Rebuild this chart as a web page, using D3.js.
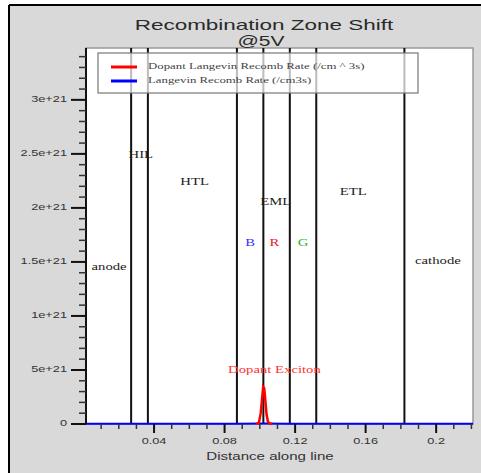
<!DOCTYPE html>
<html>
<head>
<meta charset="utf-8">
<script src="https://cdn.jsdelivr.net/npm/d3@7"></script>
<style>
  body { margin: 0; background: #fff; }
  svg { display: block; }
</style>
</head>
<body>
<div id="chart"></div>
<script>
// data
const layerBounds = [0.027, 0.0365, 0.087, 0.102, 0.117, 0.132, 0.182];
const layerLabels = [
    { text: "anode", x: 0.0145, y: 1.45e21, color: "#222" },
    { text: "HIL", x: 0.0325, y: 2.48e21, color: "#222" },
    { text: "HTL", x: 0.063, y: 2.23e21, color: "#222" },
    { text: "EML", x: 0.109, y: 2.05e21, color: "#222" },
    { text: "ETL", x: 0.153, y: 2.14e21, color: "#222" },
    { text: "cathode", x: 0.201, y: 1.5e21, color: "#222" }
];
const colourLabels = [
    { text: "B", x: 0.0945, y: 1.67e21, color: "#3333ee" },
    { text: "R", x: 0.1083, y: 1.67e21, color: "#ee2222" },
    { text: "G", x: 0.1245, y: 1.67e21, color: "#22bb22" }
];
const dopantX = [0.098, 0.0995, 0.1005, 0.1013, 0.1019, 0.1025, 0.1031, 0.1038, 0.1046, 0.1056, 0.107];
const dopantY = [0, 0.15e20, 1.0e20, 2.4e20, 3.45e20, 3.3e20, 2.2e20, 0.9e20, 0.2e20, 0.05e20, 0];
const langevinX = [0.0014, 0.027, 0.0365, 0.087, 0.102, 0.117, 0.132, 0.182, 0.2209];
const langevinY = [0.02e20, 0.02e20, 0.02e20, 0.03e20, 0.04e20, 0.03e20, 0.02e20, 0.02e20, 0.02e20];
const yTicks = [0, 5e20, 1e21, 1.5e21, 2e21, 2.5e21, 3e21];
const yTickLabels = ["0", "5e+21", "1e+21", "1.5e+21", "2e+21", "2.5e+21", "3e+21"];
const xTicks = [0.04, 0.08, 0.12, 0.16, 0.2];
const xTickLabels = ["0.04", "0.08", "0.12", "0.16", "0.2"];
const seriesNames = ["Dopant Langevin Recomb Rate (/cm ^ 3s)", "Langevin Recomb Rate (/cm3s)"];
const seriesColors = ["#ff0000", "#0000ff"];

const width = 481;
const height = 473;
const plot = { left: 86, top: 48, right: 473, bottom: 424 };
const sansFont = "Liberation Sans, Arial, sans-serif";
const serifFont = "Liberation Serif, Times New Roman, serif";

// the source picture is stretched sideways, so widen the glyphs too
function stretch(selection, factor) {
    selection.each(function() {
        const len = this.getComputedTextLength();
        d3.select(this)
            .attr("textLength", len * factor)
            .attr("lengthAdjust", "spacingAndGlyphs");
    });
}

const svg = d3.select("#chart")
    .append("svg")
    .attr("width", width)
    .attr("height", height);

// gray background and frame
svg.append("rect")
    .attr("x", 0).attr("y", 0)
    .attr("width", width).attr("height", height)
    .attr("fill", "#fff");
svg.append("rect")
    .attr("x", 9).attr("y", 5)
    .attr("width", width - 9).attr("height", height - 5)
    .attr("fill", "#d9d9d9");
svg.append("line")
    .attr("x1", 9).attr("x2", width).attr("y1", 5).attr("y2", 5)
    .attr("stroke", "#000").attr("stroke-width", 2);
svg.append("line")
    .attr("x1", 9).attr("x2", 9).attr("y1", 5).attr("y2", height)
    .attr("stroke", "#000").attr("stroke-width", 2);

const x = d3.scaleLinear().domain([0.0014, 0.2209]).range([plot.left, plot.right]);
const y = d3.scaleLinear().domain([0, 3.48e21]).range([plot.bottom, plot.top]);

// plot area
svg.append("rect")
    .attr("x", plot.left).attr("y", plot.top)
    .attr("width", plot.right - plot.left).attr("height", plot.bottom - plot.top)
    .attr("fill", "#fff")
    .attr("stroke", "#999")
    .attr("stroke-width", 1.5);

// title
svg.append("text")
    .attr("x", 264).attr("y", 30)
    .attr("text-anchor", "middle")
    .attr("font-family", sansFont)
    .attr("font-size", 14.5)
    .attr("fill", "#2a2a2a")
    .text("Recombination Zone Shift")
    .call(stretch, 1.55);
svg.append("text")
    .attr("x", 261).attr("y", 45.5)
    .attr("text-anchor", "middle")
    .attr("font-family", sansFont)
    .attr("font-size", 14.5)
    .attr("fill", "#2a2a2a")
    .text("@5V")
    .call(stretch, 1.45);

// layer boundaries
svg.append("g")
    .selectAll("line")
    .data(layerBounds)
    .join("line")
    .attr("x1", d => x(d)).attr("x2", d => x(d))
    .attr("y1", plot.top).attr("y2", plot.bottom)
    .attr("stroke", "#111")
    .attr("stroke-width", 2);

// layer labels
svg.append("g")
    .selectAll("text")
    .data(layerLabels.concat(colourLabels))
    .join("text")
    .attr("x", d => x(d.x))
    .attr("y", d => y(d.y))
    .attr("text-anchor", "middle")
    .attr("dominant-baseline", "middle")
    .attr("font-family", serifFont)
    .attr("font-size", 10.5)
    .attr("fill", d => d.color)
    .text(d => d.text)
    .call(stretch, 1.4);

svg.append("text")
    .attr("x", x(0.1083)).attr("y", y(4.9e20))
    .attr("text-anchor", "middle")
    .attr("dominant-baseline", "middle")
    .attr("font-family", serifFont)
    .attr("font-size", 10.5)
    .attr("fill", "#ff3333")
    .text("Dopant Exciton")
    .call(stretch, 1.4);

// series
const line = d3.line()
    .x(d => x(d[0]))
    .y(d => y(d[1]));

svg.append("path")
    .datum(d3.zip(langevinX, langevinY))
    .attr("d", line)
    .attr("fill", "none")
    .attr("stroke", seriesColors[1])
    .attr("stroke-width", 2);

svg.append("path")
    .datum(d3.zip(dopantX, dopantY))
    .attr("d", line)
    .attr("fill", "none")
    .attr("stroke", seriesColors[0])
    .attr("stroke-width", 2.5);

// y axis
const yMinor = d3.range(1, 35).map(i => i * 1e20).filter(v => !yTicks.includes(v));
const yAxis = svg.append("g");
yAxis.append("line")
    .attr("x1", plot.left).attr("x2", plot.left)
    .attr("y1", plot.top).attr("y2", plot.bottom)
    .attr("stroke", "#111").attr("stroke-width", 2);
yAxis.selectAll(".minor")
    .data(yMinor)
    .join("line")
    .attr("x1", plot.left - 7).attr("x2", plot.left)
    .attr("y1", d => y(d)).attr("y2", d => y(d))
    .attr("stroke", "#333").attr("stroke-width", 1.5);
yAxis.selectAll(".major")
    .data(yTicks)
    .join("line")
    .attr("x1", plot.left - 15).attr("x2", plot.left)
    .attr("y1", d => y(d)).attr("y2", d => y(d))
    .attr("stroke", "#111").attr("stroke-width", 2);
yAxis.selectAll("text")
    .data(yTicks)
    .join("text")
    .attr("x", plot.left - 19)
    .attr("y", d => y(d))
    .attr("text-anchor", "end")
    .attr("dominant-baseline", "middle")
    .attr("font-family", sansFont)
    .attr("font-size", 8.5)
    .attr("fill", "#333")
    .text((d, i) => yTickLabels[i])
    .call(stretch, 1.5);

// x axis
const xMinor = d3.range(1, 23).map(i => i / 100).filter(v => !xTicks.some(t => Math.abs(t - v) < 1e-9));
const xAxis = svg.append("g");
xAxis.selectAll(".minor")
    .data(xMinor)
    .join("line")
    .attr("x1", d => x(d)).attr("x2", d => x(d))
    .attr("y1", plot.bottom).attr("y2", plot.bottom + 5)
    .attr("stroke", "#333").attr("stroke-width", 1.5);
xAxis.selectAll(".major")
    .data(xTicks)
    .join("line")
    .attr("x1", d => x(d)).attr("x2", d => x(d))
    .attr("y1", plot.bottom).attr("y2", plot.bottom + 9)
    .attr("stroke", "#111").attr("stroke-width", 2);
xAxis.selectAll("text")
    .data(xTicks)
    .join("text")
    .attr("x", d => x(d))
    .attr("y", plot.bottom + 18)
    .attr("text-anchor", "middle")
    .attr("dominant-baseline", "middle")
    .attr("font-family", sansFont)
    .attr("font-size", 8.5)
    .attr("fill", "#333")
    .text((d, i) => xTickLabels[i])
    .call(stretch, 1.5);
xAxis.append("text")
    .attr("x", 270).attr("y", 457)
    .attr("text-anchor", "middle")
    .attr("dominant-baseline", "middle")
    .attr("font-family", sansFont)
    .attr("font-size", 11)
    .attr("fill", "#333")
    .text("Distance along line")
    .call(stretch, 1.37);

// legend
const legend = svg.append("g");
legend.append("rect")
    .attr("x", 98).attr("y", 53)
    .attr("width", 320).attr("height", 40)
    .attr("fill", "#fff")
    .attr("fill-opacity", 0.72)
    .attr("stroke", "#777")
    .attr("stroke-width", 1.2);
seriesNames.forEach(function(name, i) {
    const ly = 67 + i * 14;
    legend.append("line")
        .attr("x1", 111).attr("x2", 137)
        .attr("y1", ly).attr("y2", ly)
        .attr("stroke", seriesColors[i])
        .attr("stroke-width", 3);
    legend.append("text")
        .attr("x", 148).attr("y", ly)
        .attr("dominant-baseline", "middle")
        .attr("font-family", serifFont)
        .attr("font-size", 8)
        .attr("fill", "#444")
        .text(name)
        .call(stretch, 1.6);
});
</script>
</body>
</html>
